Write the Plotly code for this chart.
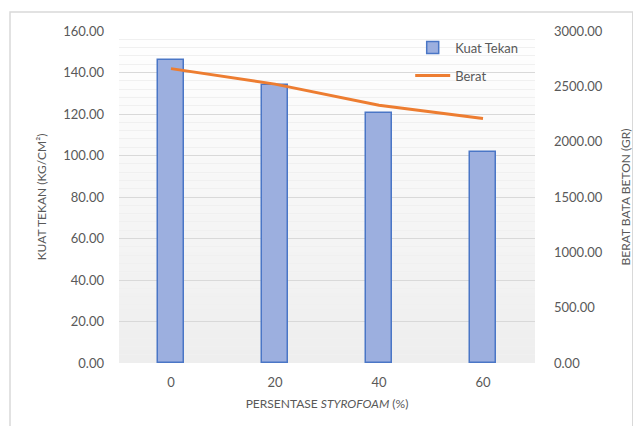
import base64
import struct
import zlib

import plotly.graph_objects as go

# Data
persentase = ["0", "20", "40", "60"]
kuat_tekan = [146.0, 134.0, 120.5, 101.5]      # kg/cm²
berat = [2660.0, 2520.0, 2330.0, 2210.0]       # gr

FONT = "Lato, 'Open Sans', sans-serif"
TXT = "#595959"


def gradient_png(top_rgb, bottom_rgb, h=64):
    """1-px wide vertical gradient encoded as a PNG data URI."""
    raw = b""
    for i in range(h):
        t = i / (h - 1)
        px = bytes(round(a + (b - a) * t) for a, b in zip(top_rgb, bottom_rgb))
        raw += b"\x00" + px
    def chunk(tag, data):
        c = struct.pack(">I", len(data)) + tag + data
        return c + struct.pack(">I", zlib.crc32(tag + data) & 0xFFFFFFFF)
    png = b"\x89PNG\r\n\x1a\n"
    png += chunk(b"IHDR", struct.pack(">IIBBBBB", 1, h, 8, 2, 0, 0, 0))
    png += chunk(b"IDAT", zlib.compress(raw))
    png += chunk(b"IEND", b"")
    return "data:image/png;base64," + base64.b64encode(png).decode()


fig = go.Figure()

fig.add_trace(go.Bar(
    x=persentase, y=kuat_tekan, name="Kuat Tekan", legendgroup="kt",
    width=0.25,
    marker=dict(color="#9cafdf", line=dict(color="#4a76c6", width=1.5)),
    yaxis="y",
))

fig.add_trace(go.Scatter(
    x=persentase, y=berat, name="Berat", mode="lines", legendgroup="b",
    line=dict(color="#ed7d31", width=3),
    yaxis="y2",
))

fig.update_layout(
    width=633, height=426,
    margin=dict(l=119, r=98, t=31, b=63),
    paper_bgcolor="white",
    plot_bgcolor="rgba(0,0,0,0)",
    font=dict(family=FONT, size=13, color=TXT),
    showlegend=True,
    legend=dict(
        x=0.70, y=0.995, xanchor="left", yanchor="top",
        bgcolor="rgba(0,0,0,0)", font=dict(size=13, color=TXT),
        itemwidth=35, tracegroupgap=8,
    ),
    xaxis=dict(
        type="category", range=[-0.5, 3.5],
        showgrid=False, showline=False, ticks="",
        ticklabelstandoff=10, automargin=False,
        title=dict(text="PERSENTASE <i>STYROFOAM</i> (%)", font=dict(size=12, color=TXT), standoff=10),
    ),
    yaxis=dict(
        range=[0, 160], dtick=20, tickformat=".2f",
        showgrid=True, gridcolor="#d9d9d9", gridwidth=1,
        minor=dict(dtick=4, showgrid=True, gridcolor="#f0f0f0", gridwidth=1),
        zeroline=False, showline=False, ticks="",
        ticklabelstandoff=14, automargin=False,
        title=dict(text="KUAT TEKAN (KG/CM²)", font=dict(size=12, color=TXT), standoff=14),
    ),
    yaxis2=dict(
        range=[0, 3000], dtick=500, tickformat=".2f",
        overlaying="y", side="right",
        showgrid=False, zeroline=False, showline=False, ticks="",
        ticklabelstandoff=18, automargin=False,
        title=dict(text="BERAT BATA BETON (GR)", font=dict(size=12, color=TXT), standoff=21),
    ),
    bargap=0.0,
)

# soft white-to-grey fill behind the plotting area
fig.add_layout_image(
    source=gradient_png((255, 255, 255), (238, 238, 238)),
    xref="paper", yref="paper", x=0, y=1, sizex=1, sizey=1,
    xanchor="left", yanchor="top", sizing="stretch", layer="below",
)

# chart frame
fig.add_shape(
    type="rect", xref="paper", yref="paper",
    x0=-0.262, x1=1.235, y0=-0.22, y1=1.057,
    line=dict(color="#d9d9d9", width=1.5), fillcolor="rgba(0,0,0,0)",
    layer="below",
)

fig.write_html("out.html")
